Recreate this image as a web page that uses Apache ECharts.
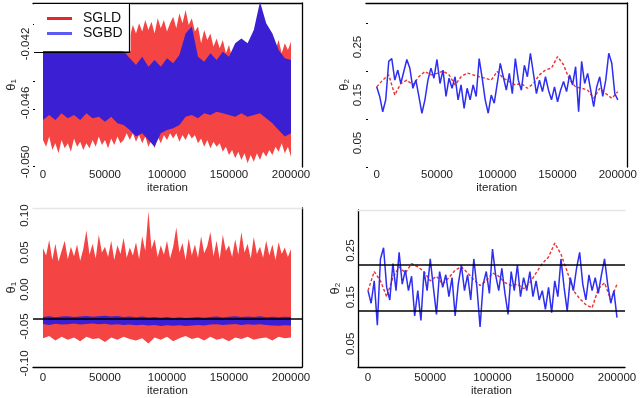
<!DOCTYPE html>
<html>
<head>
<meta charset="utf-8">
<script src="https://cdn.jsdelivr.net/npm/echarts@6/dist/echarts.min.js"></script>
<style>
  html, body { margin: 0; background: #fff; }
  #main { width: 640px; height: 398px; }
</style>
</head>
<body>
<div id="main"></div>
<script>
// iterations run 0..200000, every series is spread evenly over that range
const nIter = 200000
const xTicks = [0, 50000, 100000, 150000, 200000]

// top left: theta1 trace band, upper / lower edge
const t1SgldHiA = [
  -0.04241, -0.04173, -0.04218, -0.04150, -0.04195, -0.04128, -0.04184, -0.04150, -0.04207, -0.04139,
  -0.04173, -0.04128, -0.04195, -0.04150, -0.04116, -0.04184, -0.04139, -0.04173, -0.04128, -0.04195,
  -0.04150, -0.04116, -0.04173, -0.04139, -0.04184, -0.04128, -0.04162, -0.04105, -0.04150, -0.04071,
  -0.04128, -0.04060, -0.04116, -0.04037, -0.04105, -0.04049, -0.04128, -0.04026, -0.04094, -0.04037,
  -0.04116, -0.04060, -0.04015, -0.04094, -0.03992, -0.04060, -0.03969, -0.04071, -0.04026, -0.04116,
  -0.04082, -0.04195, -0.04105, -0.04173, -0.04128, -0.04218, -0.04162, -0.04229, -0.04173, -0.04263,
  -0.04207, -0.04297, -0.04263, -0.04308, -0.04241, -0.04286, -0.04229, -0.04275, -0.04218, -0.04263,
  -0.04241, -0.04286, -0.04229, -0.04263, -0.04207, -0.04241, -0.04173, -0.04263, -0.04195, -0.04241,
  -0.04184
]
const t1SgldLoA = [
  -0.04851, -0.04896, -0.04828, -0.04919, -0.04873, -0.04941, -0.04851, -0.04907, -0.04873, -0.04930,
  -0.04840, -0.04896, -0.04862, -0.04919, -0.04873, -0.04907, -0.04851, -0.04896, -0.04828, -0.04885,
  -0.04851, -0.04907, -0.04840, -0.04885, -0.04828, -0.04873, -0.04851, -0.04806, -0.04851, -0.04806,
  -0.04862, -0.04817, -0.04873, -0.04828, -0.04896, -0.04851, -0.04907, -0.04828, -0.04873, -0.04817,
  -0.04851, -0.04806, -0.04840, -0.04806, -0.04862, -0.04817, -0.04851, -0.04806, -0.04840, -0.04817,
  -0.04873, -0.04840, -0.04896, -0.04851, -0.04907, -0.04862, -0.04896, -0.04873, -0.04930, -0.04896,
  -0.04953, -0.04919, -0.04975, -0.04930, -0.04986, -0.04941, -0.05009, -0.04953, -0.04998, -0.04941,
  -0.04986, -0.04930, -0.04964, -0.04919, -0.04953, -0.04896, -0.04930, -0.04873, -0.04941, -0.04896,
  -0.04964
]
const t1SgbdHiA = [
  -0.04236, -0.04245, -0.04238, -0.04247, -0.04240, -0.04244, -0.04237, -0.04246, -0.04239, -0.04243,
  -0.04241, -0.04238, -0.04245, -0.04250, -0.04297, -0.04342, -0.04286, -0.04354, -0.04308, -0.04354,
  -0.04297, -0.04331, -0.04275, -0.04128, -0.04082, -0.04286, -0.04320, -0.04263, -0.04308, -0.04252,
  -0.04286, -0.04195, -0.04162, -0.04195, -0.04105, -0.03913, -0.04060, -0.04128, -0.04241, -0.04297,
  -0.04308
]
const t1SgbdLoA = [
  -0.04715, -0.04681, -0.04715, -0.04670, -0.04704, -0.04681, -0.04715, -0.04670, -0.04704, -0.04693,
  -0.04727, -0.04693, -0.04738, -0.04749, -0.04783, -0.04828, -0.04806, -0.04851, -0.04896, -0.04806,
  -0.04783, -0.04772, -0.04749, -0.04693, -0.04681, -0.04704, -0.04670, -0.04681, -0.04659, -0.04670,
  -0.04681, -0.04693, -0.04670, -0.04693, -0.04681, -0.04670, -0.04704, -0.04738, -0.04783, -0.04828,
  -0.04806
]

// top right: theta2 traces
const t2SgldA = [
  0.167, 0.181, 0.192, 0.150, 0.174, 0.181, 0.171, 0.188, 0.199, 0.192,
  0.195, 0.200, 0.192, 0.171, 0.188, 0.196, 0.192, 0.188, 0.185, 0.181,
  0.199, 0.185, 0.178, 0.171, 0.174, 0.164, 0.174, 0.192, 0.202, 0.206,
  0.230, 0.213, 0.181, 0.167, 0.164, 0.160, 0.143, 0.164, 0.153, 0.143,
  0.157
]
const t2SgbdA = [
  0.167, 0.147, 0.115, 0.140, 0.220, 0.226, 0.181, 0.202, 0.174, 0.199,
  0.224, 0.206, 0.164, 0.181, 0.147, 0.112, 0.140, 0.181, 0.206, 0.185,
  0.224, 0.174, 0.202, 0.147, 0.185, 0.164, 0.188, 0.140, 0.171, 0.122,
  0.164, 0.140, 0.171, 0.147, 0.226, 0.185, 0.140, 0.112, 0.150, 0.133,
  0.174, 0.216, 0.188, 0.160, 0.195, 0.153, 0.226, 0.181, 0.160, 0.212,
  0.188, 0.237, 0.195, 0.153, 0.181, 0.157, 0.188, 0.160, 0.140, 0.167,
  0.136, 0.160, 0.178, 0.157, 0.192, 0.171, 0.209, 0.115, 0.220, 0.174,
  0.195, 0.160, 0.126, 0.167, 0.188, 0.147, 0.181, 0.237, 0.216, 0.153,
  0.140
]

// bottom left: theta1 trace band, second run
const t1SgldHiB = [
  0.056, 0.046, 0.067, 0.040, 0.062, 0.038, 0.052, 0.066, 0.041, 0.058,
  0.045, 0.061, 0.039, 0.055, 0.080, 0.047, 0.062, 0.042, 0.074, 0.050,
  0.058, 0.044, 0.066, 0.040, 0.060, 0.048, 0.070, 0.043, 0.057, 0.046,
  0.064, 0.041, 0.072, 0.052, 0.106, 0.055, 0.068, 0.044, 0.060, 0.047,
  0.066, 0.042, 0.058, 0.084, 0.050, 0.063, 0.040, 0.069, 0.046, 0.061,
  0.043, 0.072, 0.049, 0.059, 0.078, 0.045, 0.066, 0.041, 0.074, 0.052,
  0.060, 0.044, 0.068, 0.047, 0.078, 0.050, 0.062, 0.042, 0.071, 0.048,
  0.058, 0.043, 0.066, 0.046, 0.061, 0.040, 0.064, 0.048, 0.057, 0.044,
  0.055
]
const t1SgldLoB = [
  -0.066, -0.063, -0.069, -0.064, -0.068, -0.065, -0.070, -0.064, -0.067, -0.066,
  -0.071, -0.065, -0.068, -0.064, -0.067, -0.069, -0.066, -0.073, -0.065, -0.068,
  -0.064, -0.070, -0.066, -0.063, -0.067, -0.065, -0.069, -0.064, -0.068, -0.066,
  -0.070, -0.065, -0.067, -0.064, -0.068, -0.066, -0.065, -0.069, -0.064, -0.066,
  -0.065
]
const t1SgbdHiB = [
  -0.0370, -0.0362, -0.0375, -0.0366, -0.0360, -0.0372, -0.0364, -0.0358, -0.0369, -0.0361,
  -0.0355, -0.0366, -0.0359, -0.0370, -0.0363, -0.0374, -0.0366, -0.0378, -0.0370, -0.0381,
  -0.0373, -0.0384, -0.0375, -0.0386, -0.0378, -0.0370, -0.0381, -0.0372, -0.0366, -0.0377,
  -0.0368, -0.0362, -0.0373, -0.0365, -0.0370, -0.0362, -0.0374, -0.0367, -0.0376, -0.0369,
  -0.0372
]
const t1SgbdLoB = [
  -0.0465, -0.0478, -0.0462, -0.0474, -0.0468, -0.0460, -0.0472, -0.0466, -0.0458, -0.0470,
  -0.0463, -0.0475, -0.0468, -0.0480, -0.0472, -0.0484, -0.0476, -0.0488, -0.0480, -0.0492,
  -0.0484, -0.0490, -0.0482, -0.0494, -0.0486, -0.0478, -0.0488, -0.0474, -0.0468, -0.0480,
  -0.0472, -0.0466, -0.0478, -0.0470, -0.0476, -0.0468, -0.0480, -0.0485, -0.0490, -0.0484,
  -0.0488
]
const t1RefB = -0.0411

// bottom right: theta2 traces, second run
const t2SgldB = [
  0.164, 0.205, 0.185, 0.151, 0.192, 0.215, 0.202, 0.222, 0.215, 0.205,
  0.185, 0.195, 0.178, 0.192, 0.208, 0.215, 0.202, 0.188, 0.175, 0.185,
  0.202, 0.195, 0.181, 0.175, 0.178, 0.168, 0.181, 0.202, 0.222, 0.236,
  0.266, 0.242, 0.205, 0.164, 0.147, 0.134, 0.127, 0.168, 0.181, 0.144,
  0.178
]
const t2SgbdB = [
  0.164, 0.137, 0.185, 0.090, 0.232, 0.256, 0.171, 0.144, 0.222, 0.164,
  0.246, 0.178, 0.208, 0.164, 0.195, 0.110, 0.164, 0.100, 0.205, 0.164,
  0.232, 0.171, 0.113, 0.205, 0.171, 0.198, 0.151, 0.192, 0.110, 0.178,
  0.219, 0.164, 0.198, 0.144, 0.232, 0.171, 0.086, 0.178, 0.205, 0.158,
  0.253, 0.198, 0.164, 0.212, 0.158, 0.113, 0.205, 0.164, 0.219, 0.151,
  0.192, 0.164, 0.205, 0.151, 0.185, 0.144, 0.164, 0.124, 0.171, 0.117,
  0.185, 0.151, 0.232, 0.171, 0.120, 0.192, 0.164, 0.212, 0.246, 0.178,
  0.144, 0.198, 0.164, 0.192, 0.158, 0.198, 0.232, 0.178, 0.137, 0.164,
  0.106
]
const t2BoundsB = [0.2214, 0.1167]

const FONT = 'Liberation Sans, Arial, sans-serif'
const TXT = '#1c1c1c'
const RED = '#f44444'
const BLUE = '#3a20d2'
const RED_LINE = '#ea3232'
const BLUE_LINE = '#2e2ef0'

function pts(arr) {
  const step = nIter / (arr.length - 1)
  return arr.map((v, i) => [i * step, v])
}

// filled band between the upper and lower edge of a dense trace
function band(name, hi, lo, color, idx) {
  const top = pts(hi)
  const bot = pts(lo).reverse()
  return {
    type: 'custom', name: name, xAxisIndex: idx, yAxisIndex: idx,
    silent: true, data: top,
    renderItem(params, api) {
      if (params.dataIndex !== 0) return
      const poly = top.concat(bot).map(p => api.coord(p))
      return { type: 'polygon', shape: { points: poly }, style: { fill: color } }
    }
  }
}

function trace(name, arr, color, idx, width, dash) {
  return {
    type: 'line', name: name, xAxisIndex: idx, yAxisIndex: idx,
    data: pts(arr), showSymbol: false, silent: true,
    lineStyle: { color: color, width: width, type: dash || 'solid' }
  }
}

function hLines(values, idx) {
  return {
    type: 'line', xAxisIndex: idx, yAxisIndex: idx, data: [], z: 5,
    markLine: {
      silent: true, symbol: 'none', label: { show: false },
      lineStyle: { color: '#000', width: 1.5, type: 'solid' },
      data: values.map(v => ({ yAxis: v }))
    }
  }
}

function xMain(idx, min, max, showLine, margin, gap) {
  return {
    type: 'value', gridIndex: idx, min: min, max: max, position: 'bottom',
    name: 'iteration', nameLocation: 'middle', nameGap: gap,
    nameTextStyle: { fontFamily: FONT, fontSize: 11.5, color: TXT },
    axisLine: { show: showLine, onZero: false, lineStyle: { color: '#000', width: 1.3 } },
    axisTick: { show: false },
    splitLine: { show: false },
    axisLabel: {
      customValues: xTicks, margin: margin, fontFamily: FONT, fontSize: 11.5, color: TXT,
      formatter: v => String(v)
    }
  }
}

function edge(idx, pos, color) {
  return {
    type: 'value', gridIndex: idx, position: pos,
    axisLine: { show: true, onZero: false, lineStyle: { color: color, width: 1.3 } },
    axisTick: { show: false }, axisLabel: { show: false }, splitLine: { show: false }
  }
}

function yMain(idx, min, max, labels, ticks, digits, margin, gap, showLine) {
  return {
    type: 'value', gridIndex: idx, min: min, max: max, position: 'left',
    name: 'θ{s|' + (idx % 2 === 0 ? '1' : '2') + '}',
    nameLocation: 'middle', nameRotate: 90, nameGap: gap,
    nameTextStyle: {
      fontFamily: FONT, fontSize: 13, color: TXT,
      rich: { s: { fontFamily: FONT, fontSize: 8, color: TXT, padding: [6, 0, 0, 0] } }
    },
    axisLine: { show: showLine, onZero: false, lineStyle: { color: '#000', width: 1.3 } },
    axisTick: ticks ? { show: true, customValues: ticks, inside: true, length: 2, lineStyle: { color: '#000' } } : { show: false },
    splitLine: { show: false },
    axisLabel: {
      customValues: labels, rotate: 90, margin: margin,
      fontFamily: FONT, fontSize: 11.5, color: TXT,
      formatter: v => v.toFixed(digits)
    }
  }
}

const chart = echarts.init(document.getElementById('main'))

chart.setOption({
  animation: false,
  backgroundColor: '#fff',
  grid: [
    { left: 33, top: 3, width: 269, height: 164 },
    { left: 366, top: 3, width: 269, height: 164 },
    { left: 33, top: 208, width: 269, height: 167 },
    { left: 358, top: 210, width: 267, height: 165 }
  ],
  legend: {
    left: 34, top: 4, orient: 'vertical',
    data: [
      { name: 'SGLD', itemStyle: { color: '#e5262b' } },
      { name: 'SGBD', itemStyle: { color: '#5c5cf2' } }
    ],
    icon: 'rect', itemWidth: 25, itemHeight: 3, itemGap: 0,
    backgroundColor: '#fff', borderWidth: 0,
    padding: [7, 8, 10, 13],
    textStyle: { fontFamily: FONT, fontSize: 14, lineHeight: 15, color: '#111', padding: [0, 0, 0, 6] },
    selectedMode: false
  },
  // right and bottom edge of the legend box
  graphic: [{
    type: 'polyline', z: 10, silent: true,
    shape: { points: [[129.5, 3], [129.5, 52.5], [34, 52.5]] },
    style: { stroke: '#000', lineWidth: 1.2, fill: null }
  }],
  xAxis: [
    xMain(0, -8065, 208870, false, 2, 12),
    xMain(1, -8871, 208064, false, 2, 12),
    xMain(2, -8065, 208870, true, 5, 16),
    xMain(3, -8032, 206426, true, 5, 16),
    edge(0, 'top', '#000'),
    edge(1, 'top', '#000'),
    edge(2, 'top', '#e6e6e6'),
    edge(3, 'top', '#e6e6e6')
  ],
  yAxis: [
    yMain(0, -0.05034, -0.03922, [-0.042, -0.046, -0.050], [-0.04064, -0.04451, -0.04641, -0.05027], 3, 1, 15, false),
    yMain(1, 0, 0.3417, [0.05, 0.15, 0.25], [0, 0.1, 0.2, 0.3], 2, 2, 15, false),
    yMain(2, -0.1049, 0.1103, [-0.10, -0.05, 0.00, 0.05, 0.10], null, 2, 2, 15, false),
    yMain(3, 0, 0.337, [0.05, 0.15, 0.25], null, 2, 1, 16, true),
    edge(0, 'right', '#000'),
    edge(1, 'right', '#000'),
    edge(2, 'right', '#000')
  ],
  series: [
    band('SGLD', t1SgldHiA, t1SgldLoA, RED, 0),
    band('SGBD', t1SgbdHiA, t1SgbdLoA, BLUE, 0),
    trace('SGLD', t2SgldA, RED_LINE, 1, 1.4, [3, 2]),
    trace('SGBD', t2SgbdA, BLUE_LINE, 1, 1.5),
    band('SGLD', t1SgldHiB, t1SgldLoB, RED, 2),
    band('SGBD', t1SgbdHiB, t1SgbdLoB, BLUE, 2),
    hLines([t1RefB], 2),
    trace('SGLD', t2SgldB, RED_LINE, 3, 1.4, [3, 2]),
    trace('SGBD', t2SgbdB, BLUE_LINE, 3, 1.5),
    hLines(t2BoundsB, 3)
  ]
})
</script>
</body>
</html>
